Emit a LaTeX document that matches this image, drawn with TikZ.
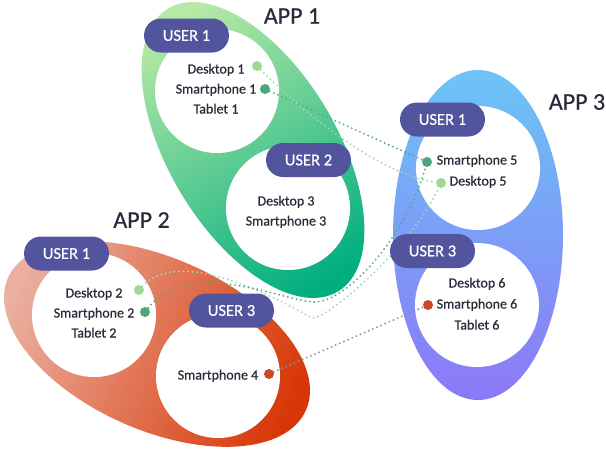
\documentclass[tikz,border=0pt]{standalone}
\usepackage{fontspec}
\setmainfont{Carlito}
\newfontfamily\dinlike{Carlito}[FakeBold=0.6]
\definecolor{pill}{RGB}{82,84,158}
\definecolor{ink}{RGB}{42,42,58}
\definecolor{gA}{RGB}{182,232,166}
\definecolor{gB}{RGB}{0,174,128}
\definecolor{rA}{RGB}{234,176,160}
\definecolor{rB}{RGB}{216,54,6}
\definecolor{bA}{RGB}{108,196,247}
\definecolor{bB}{RGB}{140,120,247}
\definecolor{dotlight}{RGB}{160,216,150}
\definecolor{dotdark}{RGB}{76,165,125}
\definecolor{dotred}{RGB}{200,72,40}
\definecolor{linelight}{RGB}{160,216,172}
\definecolor{linedark}{RGB}{88,168,134}
\definecolor{linegrey}{RGB}{145,145,155}
\pgfdeclarelayer{back}
\pgfdeclarelayer{mid}
\pgfsetlayers{back,mid,main}
\begin{document}
\begin{tikzpicture}[x=1pt,y=1pt,
  pillbox/.style={fill=pill, text=white, rounded corners=17pt, minimum width=85pt, minimum height=34pt, inner sep=0pt, font=\dinlike\fontsize{16.5}{18}\selectfont},
  hole/.style={circle, fill=white, minimum size=124pt, inner sep=0pt},
  item/.style={text=ink, inner sep=0pt, text height=10pt, text depth=3pt, font=\dinlike\fontsize{14}{16}\selectfont},
  applabel/.style={text=ink, inner sep=0pt, font=\dinlike\fontsize{24}{26}\selectfont},
  dotbase/.style={circle, minimum size=10pt, inner sep=0pt},
  dotL/.style={dotbase, fill=dotlight},
  dotD/.style={dotbase, fill=dotdark},
  dotR/.style={dotbase, fill=dotred},
  conn/.style={line width=2.1pt, line cap=round, dash pattern=on 0pt off 4.5pt}
]
\useasboundingbox (0,0) rectangle (606,-448);
\begin{pgfonlayer}{back}
% app ellipses
\shade[rotate around={-59:(253,-150)}, top color=gA, bottom color=gB, shading angle=31] (253,-150) ellipse [x radius=165, y radius=84];
\shade[rotate around={-24:(157,-344)}, top color=rA, bottom color=rB, shading angle=66] (157,-344) ellipse [x radius=163, y radius=86];
\shade[top color=bA, bottom color=bB] (478,-235) ellipse [x radius=85, y radius=165];
% white user circles
\node[hole] (c11) at (217,-91) {};
\node[hole] (c12) at (288,-208) {};
\node[hole] (c21) at (94,-315) {};
\node[hole] (c23) at (218,-376) {};
\node[hole] (c31) at (478,-168) {};
\node[hole] (c33) at (477,-305) {};
\end{pgfonlayer}
% dots
\node[dotL] (d1) at (257,-66) {};
\node[dotD] (s1) at (265,-89) {};
\node[dotL] (d2) at (139,-290) {};
\node[dotD] (s2) at (145,-312) {};
\node[dotR] (s4) at (269,-374) {};
\node[dotD] (s5) at (427,-162) {};
\node[dotL] (d5) at (441,-183) {};
\node[dotR] (s6) at (428,-305) {};
\coordinate (w1) at (312,-318);
\coordinate (w2) at (315,-302);
% connectors
\begin{pgfonlayer}{mid}
\draw[conn, linedark] (s1) -- (s5);
\draw[conn, linelight] (d1) .. controls (300,-110) and (380,-175) .. (d5);
\draw[conn, linelight] (d2) .. controls (180,-245) and (280,-300) .. (w1) .. controls (325,-320) and (410,-250) .. (d5);
\draw[conn, linedark] (s2) .. controls (190,-255) and (285,-302) .. (w2) .. controls (345,-302) and (405,-240) .. (s5);
\draw[conn, linegrey] (s4) -- (s6);
\end{pgfonlayer}
% pills
\node[pillbox] (p11) at (186.5,-35.5) {USER 1};
\node[pillbox] (p12) at (308.5,-160) {USER 2};
\node[pillbox] (p21) at (66.5,-253.5) {USER 1};
\node[pillbox] (p23) at (231.5,-310.5) {USER 3};
\node[pillbox] (p31) at (442.5,-119.5) {USER 1};
\node[pillbox] (p33) at (432.5,-251) {USER 3};
% app labels
\node[applabel] (a1) at (292,-16) {APP 1};
\node[applabel] (a2) at (141.5,-220) {APP 2};
\node[applabel] (a3) at (577,-102) {APP 3};
% items
\node[item] (t1a) at (216,-70) {Desktop 1};
\node[item] (t1b) at (216,-90) {Smartphone 1};
\node[item] (t1c) at (216,-110) {Tablet 1};
\node[item] (t3a) at (286,-202) {Desktop 3};
\node[item] (t3b) at (286,-222) {Smartphone 3};
\node[item] (t2a) at (94,-294) {Desktop 2};
\node[item] (t2b) at (94,-314) {Smartphone 2};
\node[item] (t2c) at (94,-334) {Tablet 2};
\node[item] (t4) at (218,-376) {Smartphone 4};
\node[item] (t5a) at (477,-161) {Smartphone 5};
\node[item] (t5b) at (478,-182) {Desktop 5};
\node[item] (t6a) at (477,-284) {Desktop 6};
\node[item] (t6b) at (477,-305) {Smartphone 6};
\node[item] (t6c) at (477,-326) {Tablet 6};
\end{tikzpicture}
\end{document}
